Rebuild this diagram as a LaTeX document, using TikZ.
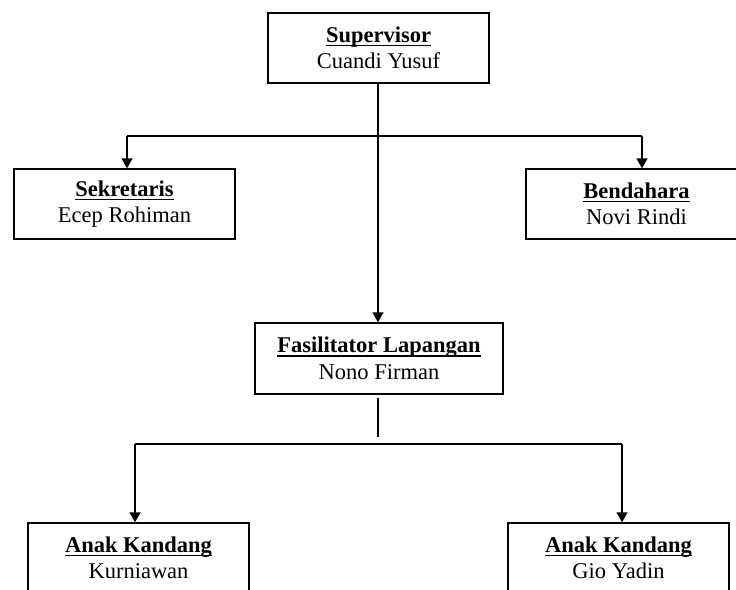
\documentclass[tikz,border=0pt]{standalone}
\usepackage{fontspec}
\setmainfont{Liberation Serif}
\usetikzlibrary{arrows.meta}
\newcommand\myul[1]{\setbox0\hbox{#1}\rlap{\rule[-3.6pt]{\wd0}{1.2pt}}\box0}
\tikzset{
  box/.style={draw, line width=1.4pt, minimum width=221pt, minimum height=70pt, inner sep=0pt, align=center,
    font=\fontsize{22.5}{26.5}\selectfont},
  conn/.style={line width=1.4pt},
  arr/.style={line width=1.4pt, -{Triangle[width=11pt,length=10pt]}}
}
\begin{document}
\begin{tikzpicture}[x=1pt,y=-1pt]
\useasboundingbox (0,0) rectangle (736,589);
\clip (0,0) rectangle (736,589);
\node[box] (sup) at (378.5,48) {\myul{\textbf{Supervisor}}\\Cuandi Yusuf};
\node[box] (sek) at (124.5,204) {\myul{\textbf{Sekretaris}}\\Ecep Rohiman};
\node[box] (ben) at (636.5,204) {\myul{\textbf{Bendahara}}\\Novi Rindi};
\node[box, minimum width=248pt, minimum height=71pt] (fas) at (379,358.5) {\myul{\textbf{Fasilitator Lapangan}}\\Nono Firman};
\node[box] (ak1) at (138.5,558) {\myul{\textbf{Anak Kandang}}\\Kurniawan};
\node[box] (ak2) at (618.5,558) {\myul{\textbf{Anak Kandang}}\\Gio Yadin};
\coordinate (vx) at (378,0);
% level 1 branches
\coordinate (h1l) at (127,136);
\coordinate (h1r) at (642,136);
\draw[conn] (h1l) -- (h1r);
\draw[arr] (sup.south -| vx) -- (fas.north -| vx);
\draw[arr] (h1l) -- (h1l |- sek.north);
\draw[arr] (h1r) -- (h1r |- ben.north);
% level 2 branches
\coordinate (v2a) at (378,398);
\coordinate (v2b) at (378,437);
\draw[conn] (v2a) -- (v2b);
\coordinate (h2l) at (135,444);
\coordinate (h2r) at (622,444);
\draw[conn] (h2l) -- (h2r);
\draw[arr] (h2l) -- (h2l |- ak1.north);
\draw[arr] (h2r) -- (h2r |- ak2.north);
\end{tikzpicture}
\end{document}
